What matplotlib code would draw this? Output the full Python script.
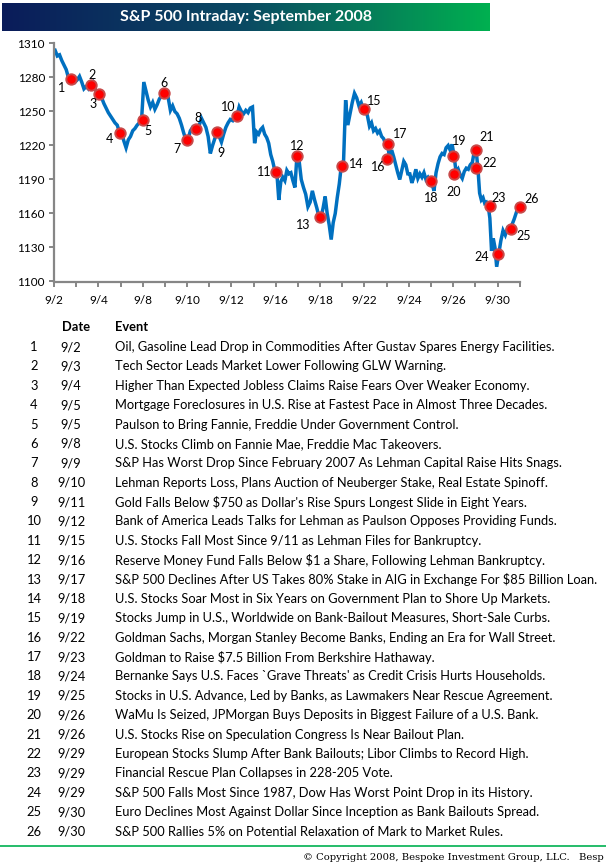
import matplotlib
import numpy as np

matplotlib.use("Agg")
import matplotlib.pyplot as plt
from matplotlib.colors import LinearSegmentedColormap

# trading days of September 2008 (category axis, one slot per day)
trading_days = [
    "9/2", "9/3", "9/4", "9/5", "9/8", "9/9", "9/10", "9/11", "9/12", "9/15", "9/16",
    "9/17", "9/18", "9/19", "9/22", "9/23", "9/24", "9/25", "9/26", "9/29", "9/30",
]

# intraday S&P 500 levels, one list per trading day
intraday_levels = [
    [1304, 1299, 1300, 1295, 1291, 1287, 1280, 1276, 1278, 1276],
    [1278, 1281, 1276, 1270, 1272, 1270, 1274, 1276, 1270, 1266],
    [1266, 1262, 1257, 1253, 1249, 1246, 1243, 1240, 1238, 1232],
    [1231, 1224, 1218, 1225, 1228, 1233, 1235, 1238, 1240, 1243],
    [1276, 1268, 1260, 1254, 1258, 1252, 1256, 1261, 1264, 1266],
    [1265, 1262, 1251, 1255, 1250, 1248, 1244, 1238, 1231, 1225],
    [1226, 1233, 1236, 1234, 1237, 1238, 1244, 1240, 1236, 1228],
    [1213, 1220, 1226, 1231, 1228, 1223, 1230, 1236, 1240, 1243],
    [1242, 1247, 1246, 1254, 1250, 1248, 1251, 1249, 1253, 1254],
    [1222, 1232, 1230, 1234, 1236, 1230, 1227, 1222, 1212, 1206, 1198],
    [1197, 1172, 1188, 1192, 1189, 1198, 1195, 1196, 1189, 1183, 1211],
    [1207, 1190, 1183, 1177, 1166, 1170, 1180, 1172, 1165, 1157],
    [1157, 1165, 1175, 1160, 1150, 1137, 1152, 1160, 1174, 1186, 1202],
    [1202, 1260, 1238, 1248, 1258, 1266, 1262, 1255, 1258, 1252],
    [1252, 1246, 1237, 1240, 1233, 1235, 1231, 1233, 1228, 1226, 1221],
    [1221, 1208, 1216, 1210, 1203, 1196, 1190, 1198, 1206, 1203, 1195],
    [1195, 1187, 1192, 1199, 1191, 1195, 1192, 1196, 1190, 1192, 1189],
    [1186, 1180, 1196, 1204, 1210, 1213, 1212, 1218, 1220, 1216, 1221],
    [1210, 1196, 1199, 1194, 1191, 1197, 1200, 1199, 1203, 1205, 1215],
    [1215, 1200, 1178, 1172, 1174, 1169, 1170, 1167, 1156, 1127, 1138, 1130, 1113],
    [1124, 1136, 1145, 1141, 1147, 1146, 1150, 1155, 1161, 1166],
]

event_ids = list(range(1, 27))
event_dates = [
    "9/2", "9/3", "9/4", "9/5", "9/5", "9/8", "9/9", "9/10", "9/11", "9/12", "9/15",
    "9/16", "9/17", "9/18", "9/19", "9/22", "9/23", "9/24", "9/25", "9/26", "9/26",
    "9/29", "9/29", "9/29", "9/30", "9/30",
]
event_text = [
    "Oil, Gasoline Lead Drop in Commodities After Gustav Spares Energy Facilities.",
    "Tech Sector Leads Market Lower Following GLW Warning.",
    "Higher Than Expected Jobless Claims Raise Fears Over Weaker Economy.",
    "Mortgage Foreclosures in U.S. Rise at Fastest Pace in Almost Three Decades.",
    "Paulson to Bring Fannie, Freddie Under Government Control.",
    "U.S. Stocks Climb on Fannie Mae, Freddie Mac Takeovers.",
    "S&P Has Worst Drop Since February 2007 As Lehman Capital Raise Hits Snags.",
    "Lehman Reports Loss, Plans Auction of Neuberger Stake, Real Estate Spinoff.",
    "Gold Falls Below $750 as Dollar's Rise Spurs Longest Slide in Eight Years.",
    "Bank of America Leads Talks for Lehman as Paulson Opposes Providing Funds.",
    "U.S. Stocks Fall Most Since 9/11 as Lehman Files for Bankruptcy.",
    "Reserve Money Fund Falls Below $1 a Share, Following Lehman Bankruptcy.",
    "S&P 500 Declines After US Takes 80% Stake in AIG in Exchange For $85 Billion Loan.",
    "U.S. Stocks Soar Most in Six Years on Government Plan to Shore Up Markets.",
    "Stocks Jump in U.S., Worldwide on Bank-Bailout Measures, Short-Sale Curbs.",
    "Goldman Sachs, Morgan Stanley Become Banks, Ending an Era for Wall Street.",
    "Goldman to Raise $7.5 Billion From Berkshire Hathaway.",
    "Bernanke Says U.S. Faces `Grave Threats' as Credit Crisis Hurts Households.",
    "Stocks in U.S. Advance, Led by Banks, as Lawmakers Near Rescue Agreement.",
    "WaMu Is Seized, JPMorgan Buys Deposits in Biggest Failure of a U.S. Bank.",
    "U.S. Stocks Rise on Speculation Congress Is Near Bailout Plan.",
    "European Stocks Slump After Bank Bailouts; Libor Climbs to Record High.",
    "Financial Rescue Plan Collapses in 228-205 Vote.",
    "S&P 500 Falls Most Since 1987, Dow Has Worst Point Drop in its History.",
    "Euro Declines Most Against Dollar Since Inception as Bank Bailouts Spread.",
    "S&P 500 Rallies 5% on Potential Relaxation of Mark to Market Rules.",
]
# where each event sits on the line (trading-day axis) and the index level there
event_time = [
    0.75, 1.65, 2.05, 2.98, 4.0, 4.96, 5.98, 6.39, 7.37, 8.25, 10.0, 10.98, 12.0,
    13.0, 14.0, 15.02, 15.05, 17.0, 18.0, 18.02, 19.03, 19.03, 19.64, 20.04, 20.61, 21.0,
]
event_level = [
    1279, 1273.5, 1265.6, 1231, 1242.5, 1266.5, 1225, 1234.4, 1232, 1246, 1197, 1211,
    1157, 1202, 1252, 1208, 1221.5, 1189, 1210.6, 1195, 1215.6, 1200.3, 1167, 1124,
    1146.5, 1166,
]

y_ticks = [1100, 1130, 1160, 1190, 1220, 1250, 1280, 1310]

# label placement around each marker, in pixels (dx right, dy down)
label_offsets = [
    (-9, 9), (1, -10), (-6, 10), (-11, 6), (5, 11), (0, -10), (-10, 9), (2, -11),
    (4, 21), (-9, -9), (-12, 0), (0, -10), (-17, 8), (14, -2), (10, -8), (-9, 8),
    (12, -10), (0, 17), (6, -15), (0, 18), (11, -13), (14, -5), (9, -8), (-17, 3),
    (13, 7), (12, -8),
]

FONT = "Lato"
W, H = 606, 864

fig = plt.figure(figsize=(W / 100, H / 100), dpi=100)

# title banner with navy -> green gradient
banner = fig.add_axes([2 / W, 1 - 31 / H, 488 / W, 28 / H])
cmap = LinearSegmentedColormap.from_list("banner", ["#0a1c5a", "#0b4a63", "#00b050"])
banner.imshow(np.linspace(0, 1, 256)[None, :], aspect="auto", cmap=cmap,
              extent=(0, 1, 0, 1))
banner.set_axis_off()
fig.text(246 / W, 1 - 17 / H, "S&P 500 Intraday: September 2008", color="white",
         fontsize=11.5, fontweight="bold", family=FONT, ha="center", va="center")

# price chart
ax = fig.add_axes([54 / W, 1 - 281.5 / H, 465.7 / W, 238 / H])
xs, ys = [], []
for day, levels in enumerate(intraday_levels):
    n = len(levels)
    xs.extend(day + (np.arange(n) + 0.5) / n)
    ys.extend(levels)
ax.plot(xs, ys, color="#0070c0", linewidth=2.5, solid_joinstyle="miter")

ax.plot(event_time, event_level, linestyle="none", marker="o", markersize=7.5,
        markerfacecolor="#ff0000", markeredgecolor="#c84a4a", markeredgewidth=1.4,
        clip_on=False, zorder=3)
for num, t, lvl, (dx, dy) in zip(event_ids, event_time, event_level, label_offsets):
    ax.annotate(str(num), (t, lvl), xytext=(dx, -dy), textcoords="offset pixels",
                ha="center", va="center", fontsize=9, family=FONT, color="black",
                annotation_clip=False)

ax.set_xlim(0, len(trading_days))
ax.set_ylim(y_ticks[0], y_ticks[-1])
ax.set_yticks(y_ticks)
ax.set_yticklabels([str(v) for v in y_ticks])
ax.set_xticks(range(len(trading_days) + 1))
ax.set_xticklabels([d if i % 2 == 0 else "" for i, d in
                    enumerate(trading_days + [""])])
for side in ("top", "right"):
    ax.spines[side].set_visible(False)
for side in ("left", "bottom"):
    ax.spines[side].set_color("#868686")
    ax.spines[side].set_linewidth(1.6)
ax.tick_params(axis="both", direction="out", length=3.5, width=1.4, color="#868686",
               labelsize=8.5, labelcolor="black")
ax.tick_params(axis="x", pad=6)
ax.tick_params(axis="y", pad=3)
for lbl in ax.get_xticklabels() + ax.get_yticklabels():
    lbl.set_family(FONT)

# events table
header_y = 327
row_y0 = 347
row_step = 19.38
table_size = 9.3
fig.text(76 / W, 1 - header_y / H, "Date", fontsize=table_size, fontweight="bold",
         family=FONT, ha="center", va="center")
fig.text(115 / W, 1 - header_y / H, "Event", fontsize=table_size, fontweight="bold",
         family=FONT, ha="left", va="center")
for i, (num, date, text) in enumerate(zip(event_ids, event_dates, event_text)):
    y = 1 - (row_y0 + i * row_step) / H
    fig.text(34 / W, y, str(num), fontsize=table_size, family=FONT, ha="center",
             va="center")
    fig.text(71 / W, y, date, fontsize=table_size, family=FONT, ha="center",
             va="center")
    fig.text(115 / W, y, text, fontsize=table_size, family=FONT, ha="left",
             va="center", parse_math=False)

# footer
fig.add_artist(plt.Line2D([0, 1], [1 - 846 / H, 1 - 846 / H], color="#00b050",
                          linewidth=1.2, transform=fig.transFigure))
fig.text(604 / W, 1 - 857 / H,
         "\u00a9 Copyright 2008, Bespoke Investment Group, LLC.   Besp",
         fontsize=7.2, family="DejaVu Serif", ha="right", va="center")

fig.savefig("out.png", dpi=100)
